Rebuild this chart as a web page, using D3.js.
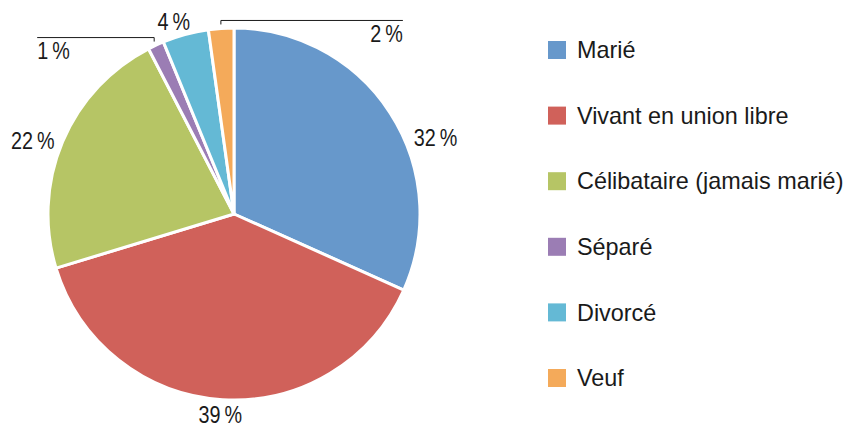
<!DOCTYPE html>
<html>
<head>
<meta charset="utf-8">
<script src="https://cdn.jsdelivr.net/npm/d3@7"></script>
<style>
  body { margin: 0; background: #fff; }
  svg text { font-family: "Liberation Sans", Arial, sans-serif; fill: #1a1a1a; }
</style>
</head>
<body>
<div class="chart"></div>
<script>
// data
const categories = ['Marié', 'Vivant en union libre', 'Célibataire (jamais marié)', 'Séparé', 'Divorcé', 'Veuf'];
const values = [31.7, 38.6, 22.1, 1.4, 4.0, 2.2];
const labels = ['32 %', '39 %', '22 %', '1 %', '4 %', '2 %'];
const colors = ['#6798cb', '#d0615a', '#b6c565', '#9b7db4', '#64b9d5', '#f4aa5a'];

const width = 846, height = 428;
const cx = 234, cy = 214, radius = 186;
const squeeze = 0.86; // condensed look for the slice labels
const legendSqueeze = 0.975;

// label placement (angle shift in degrees, radius), leader lines for small slices
const labelSpot = {
  'Marié': { shift: 12.5, r: 215 },
  'Vivant en union libre': { shift: 0.3, r: 202 },
  'Célibataire (jamais marié)': { shift: -3, r: 214 },
  'Divorcé': { shift: -2.3, r: 201 },
};
const leaders = {
  'Séparé': { len: -117, anchor: 'start' },
  'Veuf': { len: 182, anchor: 'end' },
};

const svg = d3.select('.chart').append('svg')
  .attr('width', width)
  .attr('height', height);

const pie = d3.pie().sort(null).value(d => d.value);
const arcs = pie(categories.map((c, i) => ({ name: c, value: values[i], label: labels[i], color: colors[i] })));

const arc = d3.arc().innerRadius(0).outerRadius(radius);

const g = svg.append('g').attr('transform', `translate(${cx},${cy})`);

g.selectAll('path.slice')
  .data(arcs)
  .enter().append('path')
  .attr('class', 'slice')
  .attr('d', arc)
  .attr('fill', d => d.data.color)
  .attr('stroke', '#fff')
  .attr('stroke-width', 3)
  .attr('stroke-linejoin', 'round');

const polar = (a, r) => [r * Math.sin(a), -r * Math.cos(a)];
const mid = d => (d.startAngle + d.endAngle) / 2;
const pct = s => s.replace(' ', '\u2009');

// labels outside the big slices
g.selectAll('text.lbl')
  .data(arcs.filter(d => labelSpot[d.data.name]))
  .enter().append('text')
  .attr('class', 'lbl')
  .attr('transform', d => {
    const s = labelSpot[d.data.name];
    const p = polar(mid(d) + s.shift * Math.PI / 180, s.r);
    return `translate(${p[0]},${p[1]}) scale(${squeeze},1)`;
  })
  .attr('text-anchor', 'middle')
  .attr('dominant-baseline', 'central')
  .style('font-size', '23px')
  .text(d => pct(d.data.label));

// leader lines for the thin slices
const small = arcs.filter(d => leaders[d.data.name]);
small.forEach(d => {
  const L = leaders[d.data.name];
  const p0 = polar(mid(d), radius + 4);
  const p1 = [p0[0], p0[1] - 4];
  const p2 = [p0[0] + L.len, p1[1]];
  g.append('path')
    .attr('d', d3.line()([p0, p1, p2]))
    .attr('fill', 'none')
    .attr('stroke', '#1a1a1a')
    .attr('stroke-width', 1);
  g.append('text')
    .attr('transform', `translate(${p2[0]},${p2[1] + 14}) scale(${squeeze},1)`)
    .attr('text-anchor', L.anchor)
    .attr('dominant-baseline', 'central')
    .style('font-size', '23px')
    .text(pct(d.data.label));
});

// legend
const legend = svg.append('g').attr('transform', 'translate(548,50)');
const row = legend.selectAll('g')
  .data(arcs)
  .enter().append('g')
  .attr('transform', (d, i) => `translate(0,${i * 65.6})`);
row.append('rect')
  .attr('x', 0).attr('y', -9)
  .attr('width', 18).attr('height', 18)
  .attr('fill', d => d.data.color);
row.append('text')
  .attr('transform', `translate(29,0) scale(${legendSqueeze},1)`)
  .attr('dominant-baseline', 'central')
  .style('font-size', '24px')
  .text(d => d.data.name);
</script>
</body>
</html>
